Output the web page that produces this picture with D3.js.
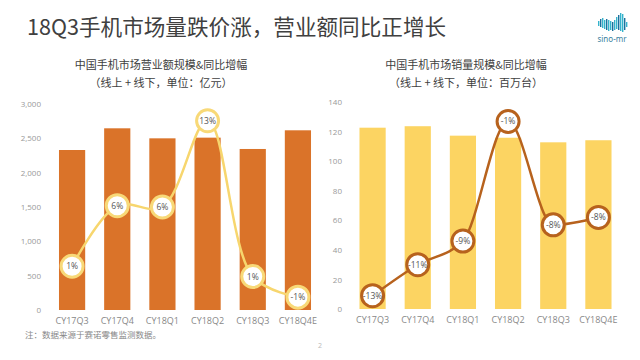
<!DOCTYPE html>
<html><head><meta charset="utf-8">
<script src="https://cdn.jsdelivr.net/npm/d3@7/dist/d3.min.js"></script>
<style>
html,body{margin:0;padding:0;background:#fff;}
svg{display:block;font-family:"Noto Sans","Noto Sans CJK SC",sans-serif;}
</style></head>
<body>
<svg id="c" width="640" height="360"></svg>
<script>
const categories = ["CY17Q3","CY17Q4","CY18Q1","CY18Q2","CY18Q3","CY18Q4E"];
const revenue = [2330, 2646, 2500, 2510, 2345, 2617];
const revenueGrowth = [1.4, 6.1, 6.0, 12.7, 0.6, -1.0];
const revenueGrowthLabels = ["1%","6%","6%","13%","1%","-1%"];
const volume = [122.8, 123.8, 117.4, 116.0, 112.9, 114.3];
const volumeGrowth = [-13.1, -11.0, -9.4, -1.3, -8.3, -7.8];
const volumeGrowthLabels = ["-13%","-11%","-9%","-1%","-8%","-8%"];
const revenueTicks = [0,500,1000,1500,2000,2500,3000];
const volumeTicks = [0,20,40,60,80,100,120,140];

const svg = d3.select("#c");

// Title
svg.append("text").attr("x",27).attr("y",35)
  .attr("font-family",'"Noto Sans CJK SC",sans-serif')
  .attr("font-size",21.6).attr("fill","#404040")
  .text("18Q3手机市场量跌价涨，营业额同比正增长");

// Logo (map-like cluster of vertical strokes)
const logoCols = [[0,21,26],[2,19,27],[4,18,28],[6,20,29],[8,19,30],[10,20,31],[12,21,30],[14,22,31],[16,20,30],[18,17,29],[20,15,30],[22,13,31],[24,14,32],[26,18,30],[28,22,27]];
svg.append("g").selectAll("rect").data(logoCols).enter().append("rect")
  .attr("x",d=>598+d[0]).attr("y",d=>d[1]).attr("width",1.4)
  .attr("height",d=>d[2]-d[1])
  .attr("fill",(d,i)=> i%3===1 ? "#1d6f9c" : "#36b3cc");
svg.append("text").attr("x",612).attr("y",42).attr("text-anchor","middle")
  .attr("font-size",8).attr("fill","#3a7fa0").text("sino-mr");

function chart(opt){
  const g = svg.append("g");
  g.append("text").attr("x",opt.subX).attr("y",69).attr("text-anchor","middle")
    .attr("font-family",'"Noto Sans CJK SC",sans-serif')
    .attr("font-size",11).attr("fill","#404040").text(opt.sub1);
  g.append("text").attr("x",opt.subX).attr("y",87).attr("text-anchor","middle")
    .attr("font-family",'"Noto Sans CJK SC",sans-serif')
    .attr("font-size",11).attr("fill","#404040").text(opt.sub2);

  const x = d3.scaleBand().domain(categories).range(opt.xr)
    .paddingInner(0.42).paddingOuter(0.21);
  const y = d3.scaleLinear().domain([0, opt.ymax]).range(opt.yr);
  const y2 = d3.scaleLinear().domain(opt.y2d).range(opt.yr);

  const ya = g.append("g").attr("transform",`translate(${opt.yAxisX},0)`)
    .call(d3.axisLeft(y).tickValues(opt.ticks).tickSize(0).tickPadding(0)
      .tickFormat(d3.format(",")));
  ya.select(".domain").remove();
  ya.selectAll("text").attr("font-size",8).attr("fill","#999")
    .attr("font-family",'"Open Sans",sans-serif');

  const xa = g.append("g").attr("transform",`translate(0,${opt.yr[0]})`)
    .call(d3.axisBottom(x).tickSize(0).tickPadding(8));
  xa.select(".domain").remove();
  xa.selectAll("text").attr("font-size",9).attr("fill","#888")
    .attr("font-family",'"Open Sans",sans-serif');

  g.selectAll("rect.bar").data(opt.bars).enter().append("rect").attr("class","bar")
    .attr("x",(d,i)=>x(categories[i])).attr("width",x.bandwidth())
    .attr("y",d=>y(d)).attr("height",d=>y(0)-y(d)).attr("fill",opt.barColor);

  const pts = opt.growth.map((v,i)=>[x(categories[i])+x.bandwidth()/2, y2(v)]);
  g.append("path").datum(pts)
    .attr("d", d3.line().curve(opt.curve))
    .attr("fill","none").attr("stroke",opt.lineColor).attr("stroke-width",2.5);
  const m = g.selectAll("g.mk").data(pts).enter().append("g")
    .attr("transform",d=>`translate(${d[0]},${d[1]})`);
  m.append("circle").attr("r",11).attr("fill","#fff")
    .attr("stroke",opt.circleStroke).attr("stroke-width",3);
  m.append("text").attr("text-anchor","middle").attr("dy","0.35em")
    .attr("font-size",8.5).attr("fill","#555")
    .attr("font-family",'"Open Sans",sans-serif')
    .text((d,i)=>opt.labels[i]);
}

chart({
  sub1:"中国手机市场营业额规模&同比增幅", sub2:"（线上 + 线下，单位：亿元）", subX:161,
  xr:[49.5,320.5], yr:[310,104], ymax:3000, y2d:[-2,14], ticks:revenueTicks, yAxisX:41,
  bars:revenue, growth:revenueGrowth, labels:revenueGrowthLabels,
  barColor:"#DA7329", lineColor:"#F7D66E", circleStroke:"#F8D978",
  curve:d3.curveCatmullRom.alpha(0.5)
});
chart({
  sub1:"中国手机市场销量规模&同比增幅", sub2:"（线上 + 线下，单位：百万台）", subX:466,
  xr:[350,621], yr:[309,102.3], ymax:140, y2d:[-14,0], ticks:volumeTicks, yAxisX:342,
  bars:volume, growth:volumeGrowth, labels:volumeGrowthLabels,
  barColor:"#FCD462", lineColor:"#B7621D", circleStroke:"#B7621D",
  curve:d3.curveMonotoneX
});

svg.append("text").attr("x",25).attr("y",338)
  .attr("font-family",'"Noto Sans CJK SC",sans-serif')
  .attr("font-size",8.5).attr("fill","#888").text("注：数据来源于赛诺零售监测数据。");
svg.append("text").attr("x",320).attr("y",348).attr("text-anchor","middle")
  .attr("font-size",7).attr("fill","#bbb").text("2");
</script>
</body></html>
